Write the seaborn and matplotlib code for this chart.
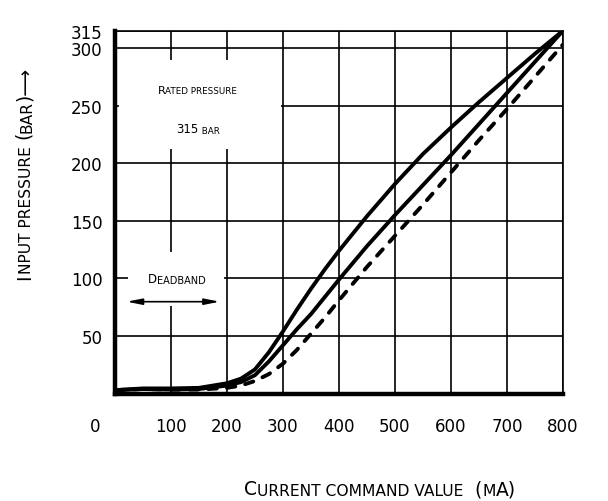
import matplotlib
matplotlib.use("Agg")
import matplotlib.pyplot as plt
import pandas as pd
import seaborn as sns
from matplotlib.patches import Rectangle
from matplotlib.transforms import Bbox, ScaledTranslation

# --- values ---
current_ma = [0, 50, 100, 150, 200, 225, 250, 275, 300, 325, 350, 375, 400,
              450, 500, 550, 600, 650, 700, 750, 800]
p_upper = [3, 4.5, 4.5, 5, 9, 13, 21, 36, 54, 73, 91, 108, 124,
           154, 182, 208, 231, 253, 274, 295, 315]
p_middle = [3, 4, 3.5, 4, 7, 10, 16, 28, 42, 56, 69, 84, 99,
            128, 155, 181, 207, 234, 261, 288, 315]
p_lower = [3, 4, 3.5, 3.5, 5, 7, 11, 17, 26, 38, 52, 66, 81,
           110, 137, 164, 192, 220, 247, 275, 303]

x_ticks = [0, 100, 200, 300, 400, 500, 600, 700, 800]
y_ticks = [50, 100, 150, 200, 250, 300, 315]

sns.set_style("white")
plt.rcParams["font.family"] = ["DejaVu Sans"]

fig = plt.figure(figsize=(6.08, 5.02), dpi=100)
ax = fig.add_axes([0.1891, 0.2139, 0.7368, 0.7229])

df = pd.DataFrame({"current": current_ma, "upper": p_upper,
                   "middle": p_middle, "lower": p_lower})

for col, ls in [("upper", "-"), ("middle", "-"), ("lower", (0, (2.2, 2.6)))]:
    sns.lineplot(data=df, x="current", y=col, ax=ax, color="black",
                 linewidth=2.8, linestyle=ls, solid_capstyle="round",
                 solid_joinstyle="round", dash_capstyle="round", zorder=3)

ax.set_xlim(0, 800)
ax.set_ylim(0, 315)
ax.set_xlabel("")
ax.set_ylabel("")
ax.set_xticks(x_ticks, [str(v) for v in x_ticks])
ax.set_yticks(y_ticks, [str(v) for v in y_ticks])
ax.grid(True, color="black", linewidth=1.2)
ax.set_axisbelow(True)
ax.tick_params(axis="both", length=0, labelsize=12, colors="black")
ax.tick_params(axis="x", pad=17)
ax.tick_params(axis="y", pad=9)

# the "0" sits left of the axis in the original
zero = ax.get_xticklabels()[0]
zero.set_transform(zero.get_transform() + ScaledTranslation(-0.2, 0, fig.dpi_scale_trans))

for side in ["left", "bottom"]:
    ax.spines[side].set_linewidth(3.2)
for side in ["top", "right"]:
    ax.spines[side].set_linewidth(1.2)
for sp in ax.spines.values():
    sp.set_color("black")

# white boxes that cut the grid behind the notes
ax.add_patch(Rectangle((8, 212), 289, 78, facecolor="white", edgecolor="none", zorder=1.2))
ax.add_patch(Rectangle((23, 76), 172, 47, facecolor="white", edgecolor="none", zorder=1.2))

ax.annotate("", xy=(187, 79.8), xytext=(21, 79.8),
            arrowprops=dict(arrowstyle="<|-|>,head_length=0.9,head_width=0.18",
                            lw=1.2, color="black", shrinkA=0, shrinkB=0),
            zorder=4)

# --- small caps text built from chained annotations ---
chains = []


def small_caps(x, y, text, big, small, trans, rotation=0):
    runs = []
    pending = ""
    for ch in text:
        if ch == " ":
            pending += ch
            continue
        low = ch.islower()
        if runs and runs[-1][1] == low:
            runs[-1][0] += pending + ch
        else:
            runs.append([pending + ch, low])
        pending = ""
    if rotation:
        ha, va, nxt = "right", "bottom", (1, 1)
    else:
        ha, va, nxt = "left", "bottom", (1, 0)
    pieces = []
    for i, (s, low) in enumerate(runs):
        kw = dict(ha=ha, va=va, rotation=rotation, annotation_clip=False,
                  fontsize=small if low else big, color="black", zorder=5)
        if i == 0:
            t = ax.annotate(s.upper(), xy=(x, y), xycoords=trans, xytext=(0, 0),
                            textcoords="offset pixels", **kw)
        else:
            t = ax.annotate(s.upper(), xy=nxt, xycoords=pieces[-1], **kw)
        pieces.append(t)
    chains.append((pieces, x, y, trans))


small_caps(147, 263.5, "Rated pressure", 8, 6.3, ax.transData)
small_caps(148, 230.5, "315 bar", 8.5, 6.3, ax.transData)
small_caps(110, 100, "Deadband", 8.5, 7, ax.transData)
small_caps(0.625, 0.024, "Current command value  (mA)", 13.5, 11.2, fig.transFigure)
small_caps(0.041, 0.655, "Input pressure (bar)\u27f6", 13.5, 11.2, fig.transFigure, rotation=90)

fig.canvas.draw()
renderer = fig.canvas.get_renderer()
for pieces, x, y, trans in chains:
    bb = Bbox.union([p.get_window_extent(renderer) for p in pieces])
    tx, ty = trans.transform((x, y))
    pieces[0].xyann = (tx - (bb.x0 + bb.x1) / 2, ty - (bb.y0 + bb.y1) / 2)

fig.savefig("out.png", dpi=100)
